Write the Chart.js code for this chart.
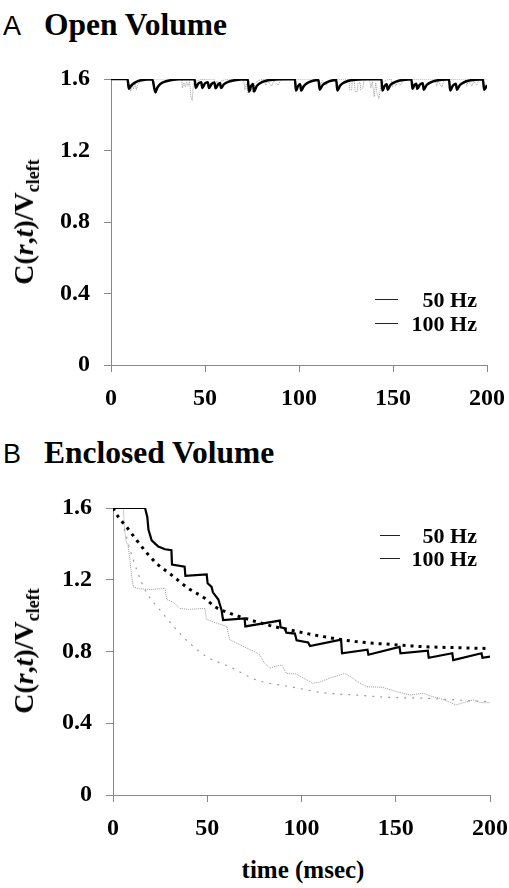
<!DOCTYPE html>
<html>
<head>
<meta charset="utf-8">
<script src="https://cdn.jsdelivr.net/npm/chart.js@4.4.1/dist/chart.umd.min.js"></script>
<style>
  html, body { margin: 0; padding: 0; background: #fff; }
  body { position: relative; width: 509px; height: 888px; overflow: hidden; font-family: "Liberation Serif", serif; }
  .panel { position: absolute; left: 0; width: 509px; height: 370px; }
  .head { position: absolute; left: 3px; white-space: pre; line-height: 30px; }
  .head .let { font: 27px "Liberation Sans", sans-serif; margin-right: 23px; }
  .head .txt { font: bold 31.5px "Liberation Serif", serif; }
  .ytitle { position: absolute; font: bold 28px "Liberation Serif", serif; white-space: nowrap;
            transform: translate(-50%, -50%) rotate(-90deg); }
  .ytitle sub { font-size: 18px; vertical-align: -6px; }
  .leg { position: absolute; font: bold 22px "Liberation Serif", serif; line-height: 24px; }
  .leg .ln { position: absolute; border-top: 1.5px solid #222; width: 23px; }
  .leg .lb { position: absolute; right: 0; white-space: pre; }
  .xtitle { position: absolute; left: 303px; top: 856px; transform: translateX(-50%);
            font: bold 25px "Liberation Serif", serif; white-space: nowrap; }
</style>
</head>
<body>

<div class="head" style="top:7px"><span class="let">A</span><span class="txt">Open Volume</span></div>
<div class="head" style="top:435px"><span class="let">B</span><span class="txt">Enclosed Volume</span></div>

<div class="panel" style="top:50px"><canvas id="chart-open"></canvas></div>
<div class="panel" style="top:480px"><canvas id="chart-encl"></canvas></div>

<div class="ytitle" style="left:26px; top:222px">C(<i>r</i>,<i>t</i>)/V<sub>cleft</sub></div>
<div class="ytitle" style="left:26px; top:651px">C(<i>r</i>,<i>t</i>)/V<sub>cleft</sub></div>

<div class="leg" style="left:375px; top:288px; width:102px; height:50px">
  <div class="ln" style="left:0; top:11px"></div><div class="lb" style="top:0">50 Hz</div>
  <div class="ln" style="left:0; top:35px"></div><div class="lb" style="top:24px">100 Hz</div>
</div>
<div class="leg" style="left:380px; top:524px; width:97px; height:50px">
  <div class="ln" style="left:0; top:11px; width:20px"></div><div class="lb" style="top:0">50 Hz</div>
  <div class="ln" style="left:0; top:34px; width:20px"></div><div class="lb" style="top:23px">100 Hz</div>
</div>

<div class="xtitle">time (msec)</div>

<script>
// --- DATA ---
const xTicks = [0, 50, 100, 150, 200];
const xTickLabels = ['0', '50', '100', '150', '200'];
const yTicks = [0, 0.4, 0.8, 1.2, 1.6];
const yTickLabels = ['0', '0.4', '0.8', '1.2', '1.6'];

// A: open volume, [time ms, C/Vcleft]
const open50Hz = [
  [0,1.6],[8.8,1.6],[9.5,1.545],[10.5,1.56],[12,1.575],[14,1.587],[17,1.595],[22,1.598],
  [23.6,1.525],[24.6,1.55],[26,1.57],[28,1.583],[31,1.592],[36,1.598],[44.4,1.6],
  [45.1,1.55],[46.5,1.575],[48,1.582],[48.6,1.55],[50,1.575],[51.5,1.582],[52.1,1.55],
  [53.5,1.572],[55,1.58],[55.6,1.548],[57,1.57],[58,1.578],[58.5,1.55],[60,1.57],[62,1.583],
  [65,1.592],[69,1.597],[72.8,1.598],[73.4,1.53],[74.5,1.56],[75.5,1.572],[76.1,1.53],
  [77.5,1.56],[79.5,1.578],[82,1.589],[86,1.596],[92,1.599],[97.8,1.6],[98.4,1.535],
  [99.5,1.56],[100.6,1.57],[101.2,1.535],[102.5,1.56],[104.5,1.578],[107,1.589],[110.4,1.594],
  [111,1.54],[112.5,1.565],[114.5,1.58],[117,1.59],[119.8,1.595],[120.4,1.535],[121.8,1.562],
  [123.5,1.578],[126,1.589],[130,1.596],[136,1.599],[143.8,1.6],[144.4,1.535],[145.5,1.56],
  [146.7,1.57],[147.2,1.54],[148.5,1.565],[150.5,1.58],[153,1.59],[156.5,1.596],[159.8,1.598],
  [160.4,1.545],[161.5,1.568],[162.4,1.574],[162.9,1.545],[164.3,1.568],[165.8,1.576],
  [166.4,1.54],[167.8,1.565],[169.8,1.58],[172.5,1.59],[176,1.596],[179.8,1.598],[180.4,1.535],
  [181.8,1.562],[183.4,1.574],[184,1.54],[185.5,1.565],[187.5,1.58],[190,1.59],[194,1.596],
  [197.8,1.598],[198.5,1.54],[200,1.565]
];
const open100Hz = [
  [0,1.6],[8.5,1.6],[9.2,1.55],[10,1.575],[10.5,1.53],[11.3,1.565],[12,1.545],[12.8,1.575],
  [13.5,1.54],[14.5,1.575],[16,1.59],[19,1.597],[25,1.6],[37.5,1.6],[38,1.55],[38.8,1.58],
  [39.5,1.555],[40.2,1.585],[41,1.56],[41.8,1.587],[42.5,1.5],[43.2,1.48],[43.8,1.57],
  [45,1.588],[48,1.597],[54.8,1.6],[55.5,1.565],[56.5,1.588],[57.5,1.56],[58.5,1.59],
  [62,1.598],[70.5,1.6],[71.2,1.54],[72,1.575],[73,1.52],[74,1.565],[75.2,1.525],[76.5,1.575],
  [78.5,1.592],[81.5,1.6],[82.3,1.565],[83.2,1.59],[85.5,1.56],[86.5,1.59],[89,1.565],[90,1.59],
  [93,1.598],[110,1.6],[111.5,1.57],[112.5,1.59],[114.5,1.565],[115.5,1.59],[118,1.598],
  [126.5,1.6],[127,1.54],[128,1.54],[128.3,1.585],[129.5,1.585],[129.8,1.53],[131,1.53],
  [131.3,1.575],[132.5,1.58],[132.8,1.54],[134,1.55],[134.5,1.59],[137.5,1.6],[138.2,1.55],
  [139,1.585],[140,1.5],[140.8,1.58],[141.5,1.52],[142.5,1.49],[143.5,1.56],[145,1.585],
  [147.5,1.597],[149,1.6],[149.7,1.555],[150.5,1.585],[151.5,1.56],[152.5,1.588],[154,1.565],
  [155,1.59],[158,1.598],[172.5,1.6],[173.2,1.56],[174,1.588],[176,1.555],[177,1.588],
  [179,1.597],[188.5,1.6],[189.2,1.56],[190,1.588],[192,1.56],[193,1.588],[194.5,1.565],
  [195.5,1.59],[198,1.598],[200,1.6]
];

// B: enclosed volume
const encl50Hz = [
  [0,1.6],[17,1.6],[18.2,1.55],[18.8,1.48],[20.5,1.42],[24,1.385],[27.6,1.37],[31,1.365],
  [31.3,1.285],[38,1.273],[38.4,1.222],[49.7,1.23],[50.2,1.18],[52.3,1.16],[53,1.13],
  [55.9,1.09],[57.6,1.03],[58.4,0.975],[69.8,0.985],[70.2,0.94],[88.5,0.972],[88.9,0.935],
  [91,0.93],[92,0.905],[96.5,0.9],[97.4,0.862],[103.5,0.85],[104.5,0.83],[121,0.866],
  [121.5,0.79],[135,0.81],[135.5,0.782],[152,0.826],[152.5,0.79],
  [167,0.805],[167.5,0.765],[180,0.79],[180.5,0.752],[195.5,0.79],[196,0.765],[200,0.772]
];
const encl50HzMean = [
  [0,1.6],[2.8,1.55],[6.4,1.505],[12.6,1.42],[18.7,1.34],[23.2,1.29],[31.1,1.226],[40,1.152],
  [48.8,1.096],[54,1.05],[62,1.013],[70,0.985],[76,0.966],[85,0.94],[94,0.92],[103,0.9],
  [111.6,0.883],[120,0.868],[129,0.855],[138,0.846],[147,0.84],[156,0.833],[164.5,0.827],
  [180,0.822],[198,0.817]
];
const encl100Hz = [
  [0,1.6],[5.5,1.6],[6,1.5],[6.5,1.45],[7,1.41],[8,1.39],[9,1.31],[9.9,1.22],[10.8,1.16],
  [14,1.15],[20,1.145],[27.6,1.152],[28.5,1.09],[32,1.075],[35.5,1.04],[40,1.035],[48.8,1.04],
  [49.5,0.98],[53,0.965],[60.3,0.94],[62,0.864],[67,0.84],[71,0.818],[75,0.8],[78,0.78],
  [80,0.74],[83.3,0.707],[87,0.72],[89.5,0.725],[92,0.678],[97,0.675],[101,0.652],[106,0.623],
  [110,0.63],[115,0.652],[120,0.668],[123,0.678],[126,0.66],[130,0.63],[134.6,0.604],
  [143,0.6],[150.5,0.576],[157.6,0.557],[164.5,0.567],[169,0.55],[173.5,0.539],[178,0.52],
  [182,0.502],[186,0.515],[191,0.53],[195,0.515],[200,0.514]
];
const encl100HzMean = [
  [0,1.6],[2,1.57],[5.5,1.496],[9,1.37],[12.6,1.254],[17.9,1.126],[25,1.031],[33.8,0.92],
  [40.8,0.845],[49.7,0.771],[62,0.715],[76.2,0.641],[94,0.604],[111.6,0.57],[129.3,0.557],
  [147,0.544],[164.5,0.54],[182,0.53],[200,0.52]
];

// --- CHART BUILDER ---
const pts = arr => arr.map(p => ({ x: p[0], y: p[1] }));
const tickFont = { family: 'Liberation Serif', size: 24, weight: 'bold' };

const buildPanel = (id, yWidth, pad, datasets) => new Chart(document.getElementById(id), {
  type: 'line',
  data: { datasets },
  options: {
    responsive: false, animation: false, events: [],
    layout: { padding: pad },
    elements: { point: { radius: 0 } },
    plugins: { legend: { display: false }, tooltip: { enabled: false } },
    scales: {
      x: {
        type: 'linear', min: 0, max: 200,
        afterBuildTicks: s => { s.ticks = xTicks.map(v => ({ value: v })); },
        afterFit: s => { s.height = 50; s.paddingLeft = 0; s.paddingRight = 0; },
        ticks: { font: tickFont, color: '#000', padding: 12, maxRotation: 0,
                 callback: (v, i) => xTickLabels[i] },
        grid: { drawOnChartArea: false, drawTicks: true, tickLength: 7, color: '#888' },
        border: { display: true, color: '#888', width: 1 }
      },
      y: {
        type: 'linear', min: 0, max: 1.6,
        afterBuildTicks: s => { s.ticks = yTicks.map(v => ({ value: v })); },
        afterFit: s => { s.width = yWidth; s.paddingTop = 0; s.paddingBottom = 0; },
        ticks: { font: tickFont, color: '#000', padding: 14,
                 callback: (v, i) => yTickLabels[i] },
        grid: { drawOnChartArea: false, drawTicks: true, tickLength: 7, color: '#888' },
        border: { display: true, color: '#888', width: 1 }
      }
    }
  }
});

const setSize = (id, w, h) => { const c = document.getElementById(id); c.width = w; c.height = h; c.style.width = w + 'px'; c.style.height = h + 'px'; };
setSize('chart-open', 509, 370);
setSize('chart-encl', 509, 370);

buildPanel('chart-open', 111, { top: 29, right: 22, bottom: 5, left: 0 }, [
  { label: '50 Hz', data: pts(open50Hz), borderColor: '#000', borderWidth: 2.5,
    cubicInterpolationMode: 'monotone' },
  { label: '100 Hz', data: pts(open100Hz), borderColor: '#9a9a9a', borderWidth: 1,
    borderDash: [1, 1], tension: 0 }
]);

buildPanel('chart-encl', 113, { top: 28, right: 19, bottom: 5, left: 0 }, [
  { label: '50 Hz', data: pts(encl50Hz), borderColor: '#000', borderWidth: 2.2, tension: 0 },
  { label: '50 Hz mean', data: pts(encl50HzMean), borderColor: '#000', borderWidth: 3,
    borderDash: [3, 5], cubicInterpolationMode: 'monotone' },
  { label: '100 Hz', data: pts(encl100Hz), borderColor: '#9a9a9a', borderWidth: 1,
    borderDash: [1, 1], tension: 0 },
  { label: '100 Hz mean', data: pts(encl100HzMean), borderColor: '#9a9a9a', borderWidth: 1.2,
    borderDash: [2, 6], cubicInterpolationMode: 'monotone' }
]);
</script>
</body>
</html>
